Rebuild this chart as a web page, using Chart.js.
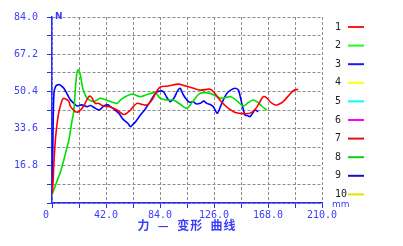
<!DOCTYPE html>
<html>
<head>
<meta charset="utf-8">
<script src="https://cdn.jsdelivr.net/npm/chart.js@4.4.1/dist/chart.umd.min.js"></script>
<style>
  html, body { margin: 0; padding: 0; background: #fff; overflow: hidden; }
</style>
</head>
<body>
<canvas id="myChart" width="403" height="246"></canvas>
<script>
// --- data (x = mm, y = N) ---
var redX   = [0, 0.8, 1.4, 2.7, 4, 5.3, 7.9, 9.2, 10.5, 13, 14.4, 16.9, 18.2, 20.8, 24.7, 27, 29.3, 31, 33.7, 36, 40, 45, 50.6, 55.7, 58, 61, 66, 70, 74, 77.7, 81, 84, 90, 98.4, 103, 107.5, 115, 123, 126, 129.4, 133, 137, 142, 146, 151, 155, 158, 160.4, 164.3, 167, 170, 173.4, 176, 179.8, 184, 187.6, 191.5];
var redY   = [4, 9, 17, 29, 36, 41, 46.5, 47.3, 47, 46, 43.5, 42, 41.2, 41.2, 43.8, 46.5, 48.3, 47.5, 45, 45, 43.8, 43.5, 42, 40, 40.5, 42, 45, 44.5, 44.3, 46.5, 50, 52.3, 52.8, 53.7, 53, 52.3, 51, 51.4, 50, 47.3, 45, 42.8, 41, 40.5, 40.3, 40.8, 42.3, 44.3, 48, 47.5, 45.5, 44.3, 44.5, 45.8, 48.5, 50.7, 51.4];

var greenX = [0, 3, 5.2, 6.6, 9, 11.8, 13, 15, 15.7, 16.9, 18.2, 19.2, 20.2, 21.2, 22.1, 23.5, 24.7, 27.3, 29.9, 32.4, 35, 37.6, 40, 45.4, 50.6, 53.1, 57, 60.9, 63.5, 68.7, 74, 80.3, 84.2, 90, 94.5, 100, 104.9, 109, 115.2, 123, 131.3, 139, 144, 148.8, 153, 156.6, 160, 163.1, 167];
var greenY = [3.6, 8.5, 11.9, 14.1, 19, 25.4, 28, 35, 37.5, 41.2, 51.8, 58, 60.1, 59.5, 57.8, 53, 50.3, 47.3, 46.3, 45.8, 46.5, 47.3, 47, 45.8, 45, 46.5, 48, 49, 49.1, 48, 49, 49.8, 47.3, 46.5, 46.5, 44.5, 42.8, 45.5, 49.5, 49.5, 47.3, 48, 46, 43.8, 45.5, 46.5, 45.5, 43.8, 42];

var blueX  = [0, 0.5, 1, 1.6, 2.7, 4, 5.3, 6.5, 9.2, 12, 14.4, 17, 19.5, 23, 27.3, 30, 33, 36.3, 38, 40.2, 43.8, 45.4, 49, 52, 55, 59, 61, 63, 65, 68.7, 72, 76.4, 80.3, 83, 86.7, 89, 92, 95, 97.5, 99.7, 102, 104.9, 107, 109.8, 112, 115.2, 118, 120.4, 123, 125.5, 128.6, 132, 136, 139, 142.4, 145, 147.6, 150.1, 152, 154, 156, 157.9, 160.4];
var blueY  = [6, 20, 40, 50, 52.5, 53.3, 53.5, 53.2, 51.8, 49, 46.5, 45, 43.8, 44.3, 43.5, 44, 43, 42, 42.5, 43.8, 44.3, 43.5, 42, 40.5, 38, 36, 34.5, 35.5, 36.7, 39.7, 42, 45.8, 49.5, 50.5, 50.3, 48, 45.8, 47.5, 50.5, 51.8, 49, 46.5, 45.5, 45.8, 44.8, 45, 46, 45, 44.5, 43.5, 40.5, 45, 49.5, 51, 51.8, 51, 45, 39.7, 39.5, 39, 40.5, 42, 41.2];

var xTicks = [0, 21, 42, 63, 84, 105, 126, 147, 168, 189, 210];
var yTicks = [0, 8.4, 16.8, 25.2, 33.6, 42, 50.4, 58.8, 67.2, 75.6, 84];

var legendLabels = ['1', '2', '3', '4', '5', '6', '7', '8', '9', '10'];
var legendColors = ['#ff1a1a', '#1aff1a', '#1a1aff', '#ffff00', '#00ffff', '#ff00ff', '#e81010', '#10d010', '#1010d0', '#e8e000'];

var chartTitle = '力 — 变形 曲线';

function toPoints(xs, ys) {
  return xs.map(function (x, i) { return { x: x, y: ys[i] }; });
}

var axisBlue = '#2a2aff';
var textBlue = '#3c3cff';
var monoFont = { family: 'DejaVu Sans Mono', size: 10 };

// legend, unit marks and caption
var extras = {
  id: 'extras',
  afterDraw: function (chart) {
    var ctx = chart.ctx;
    var area = chart.chartArea;
    ctx.save();
    ctx.font = '10px "DejaVu Sans Mono"';
    ctx.textBaseline = 'middle';
    ctx.textAlign = 'left';
    legendLabels.forEach(function (lab, i) {
      var y = 27 + i * 18.6;
      ctx.fillStyle = '#222';
      ctx.fillText(lab, 335, y);
      ctx.strokeStyle = legendColors[i];
      ctx.lineWidth = 2;
      ctx.beginPath();
      ctx.moveTo(348, y);
      ctx.lineTo(364, y);
      ctx.stroke();
    });

    ctx.fillStyle = textBlue;
    ctx.font = 'bold 9px "DejaVu Sans"';
    ctx.fillText('N', area.left + 3, area.top);
    ctx.font = '9px "DejaVu Sans"';
    ctx.fillText('mm', area.right + 10, area.bottom + 2);

    ctx.font = 'bold 12px "Noto Sans CJK SC"';
    ctx.letterSpacing = '1px';
    ctx.textAlign = 'center';
    ctx.fillText(chartTitle.replace(/ /g, '  '), (area.left + area.right) / 2, 225);
    ctx.restore();
  }
};

var ctx = document.getElementById('myChart').getContext('2d');
var chart = new Chart(ctx, {
  type: 'line',
  data: {
    datasets: [
      { label: '1', data: toPoints(redX, redY), borderColor: '#ff0000', borderWidth: 1.6, pointRadius: 0, tension: 0.35 },
      { label: '2', data: toPoints(greenX, greenY), borderColor: '#00e000', borderWidth: 1.6, pointRadius: 0, tension: 0.35 },
      { label: '3', data: toPoints(blueX, blueY), borderColor: '#0000ff', borderWidth: 1.6, pointRadius: 0, tension: 0.25 }
    ]
  },
  options: {
    responsive: false,
    animation: false,
    layout: { padding: { top: 17, right: 81, left: 0, bottom: 0 } },
    plugins: { legend: { display: false }, tooltip: { enabled: false } },
    scales: {
      x: {
        type: 'linear', min: 0, max: 210,
        afterBuildTicks: function (s) { s.ticks = xTicks.map(function (v) { return { value: v }; }); },
        afterFit: function (s) { s.height = 43; },
        ticks: {
          autoSkip: false, maxRotation: 0, padding: 1, color: textBlue, font: monoFont,
          callback: function (v) {
            if (v === 0) return '0  ';
            return (v % 42 === 0) ? v.toFixed(1) : '';
          }
        },
        grid: { color: '#8c8c8c', tickColor: axisBlue, tickLength: 5, tickBorderDash: [] },
        border: { color: axisBlue, width: 1.5, dash: [3, 2] }
      },
      y: {
        type: 'linear', min: 0, max: 84,
        afterBuildTicks: function (s) { s.ticks = yTicks.map(function (v) { return { value: v }; }); },
        afterFit: function (s) { s.width = 52; },
        ticks: {
          autoSkip: false, padding: 9, color: textBlue, font: monoFont,
          callback: function (v, i) { return (i > 0 && i % 2 === 0) ? v.toFixed(1) : ''; }
        },
        grid: { color: '#8c8c8c', tickColor: axisBlue, tickLength: 5, tickBorderDash: [] },
        border: { color: axisBlue, width: 1.5, dash: [3, 2] }
      }
    }
  },
  plugins: [extras]
});
</script>
</body>
</html>
